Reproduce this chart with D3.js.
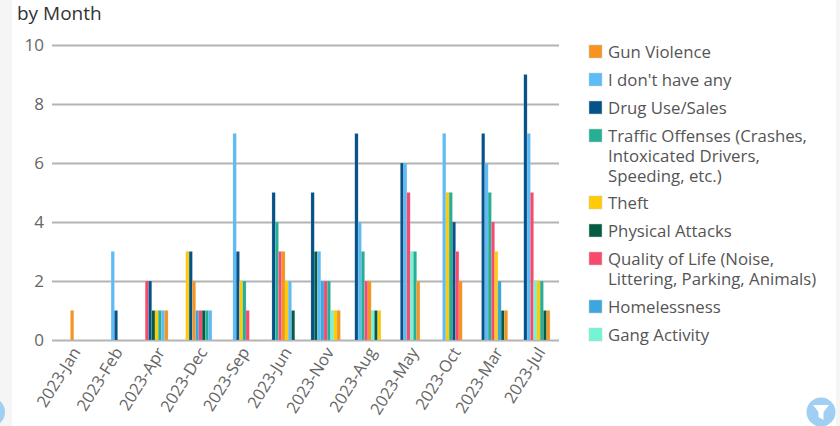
<!DOCTYPE html>
<html>
<head>
<meta charset="utf-8">
<script src="https://cdn.jsdelivr.net/npm/d3@7"></script>
<style>
  html, body { margin: 0; padding: 0; background: #fff; overflow: hidden; }
  text { font-family: "Open Sans", sans-serif; }
  .domain { display: none; }
</style>
</head>
<body>
<div id="chart"></div>
<script>
// months in the order the chart shows them
var months = ["2023-Jan", "2023-Feb", "2023-Apr", "2023-Dec", "2023-Sep", "2023-Jun",
              "2023-Nov", "2023-Aug", "2023-May", "2023-Oct", "2023-Mar", "2023-Jul"];

var legendLines = [["Gun Violence"], ["I don't have any"], ["Drug Use/Sales"],
                   ["Traffic Offenses (Crashes,", "Intoxicated Drivers,", "Speeding, etc.)"],
                   ["Theft"], ["Physical Attacks"],
                   ["Quality of Life (Noise,", "Littering, Parking, Animals)"],
                   ["Homelessness"], ["Gang Activity"]];

var seriesColors = ["#f7941d", "#5bbcf8", "#05518a", "#25b096", "#ffcb05",
                    "#045c45", "#f9496d", "#3ba6e0", "#72f5d5"];

// values per series, one per month (0 = no bar)
var gunViolence  = [1, 0, 1, 2, 0, 3, 1, 2, 2, 2, 1, 1];
var noneAtAll    = [0, 3, 1, 1, 7, 2, 3, 4, 6, 7, 6, 7];
var drugUse      = [0, 1, 2, 3, 3, 5, 5, 7, 6, 4, 7, 9];
var traffic      = [0, 0, 1, 1, 2, 4, 2, 3, 3, 5, 5, 2];
var theft        = [0, 0, 1, 3, 2, 2, 1, 1, 0, 5, 3, 2];
var physical     = [0, 0, 1, 1, 0, 1, 3, 1, 0, 0, 1, 1];
var qualityLife  = [0, 0, 2, 1, 1, 3, 2, 2, 5, 3, 4, 5];
var homeless     = [0, 0, 0, 1, 0, 0, 2, 0, 0, 0, 2, 0];
var gang         = [0, 0, 0, 0, 0, 0, 1, 1, 3, 0, 0, 2];
var seriesValues = [gunViolence, noneAtAll, drugUse, traffic, theft, physical, qualityLife, homeless, gang];

// order of the bars inside each month, as indexes into seriesValues
var barOrder = [
  [0],
  [1, 2],
  [6, 2, 5, 4, 3, 1, 0],
  [4, 2, 0, 7, 6, 5, 3, 1],
  [1, 2, 4, 3, 6],
  [2, 3, 6, 0, 4, 1, 5],
  [2, 5, 1, 7, 6, 3, 8, 4, 0],
  [2, 1, 3, 6, 0, 8, 5, 4],
  [2, 1, 6, 8, 3, 0],
  [1, 4, 3, 2, 6, 0],
  [2, 1, 3, 6, 4, 7, 5, 0],
  [2, 1, 6, 8, 4, 3, 5, 0]
];

var yTicks = [0, 2, 4, 6, 8, 10];

var width = 840, height = 426;
var margin = {top: 45, right: 281, bottom: 86, left: 52};
var barWidth = 3.26;

var svg = d3.select("#chart").append("svg")
    .attr("width", width)
    .attr("height", height)
    .style("display", "block");

// grey page strips either side of the card
svg.append("rect").attr("x", 0).attr("y", 0).attr("width", 12).attr("height", height).attr("fill", "#f5f5f5");
svg.append("rect").attr("x", 836).attr("y", 0).attr("width", 4).attr("height", height).attr("fill", "#f5f5f5");

svg.append("text")
    .attr("x", 17)
    .attr("y", 20)
    .attr("fill", "#333")
    .style("font-size", "19px")
    .text("by Month");

var x = d3.scaleBand().domain(months).range([margin.left - 1, width - margin.right - 1]);
var y = d3.scaleLinear().domain([0, 10]).range([height - margin.bottom, margin.top]);

// y axis, the ticks double as grid lines
var yAxis = svg.append("g")
    .attr("transform", "translate(" + margin.left + ",0)")
    .call(d3.axisLeft(y).tickValues(yTicks).tickSize(-(width - margin.left - margin.right)).tickPadding(8));
yAxis.selectAll("line").attr("stroke", "#b4b4b4").attr("stroke-width", 2);
yAxis.selectAll("text").attr("fill", "#666").style("font-size", "17px");

// bars, each month gets its own band scale so the group stays centred
months.forEach(function(month, m) {
  var order = barOrder[m];
  var center = x(month) + x.bandwidth() / 2;
  var inner = d3.scaleBand()
      .domain(order)
      .range([center - order.length * barWidth / 2, center + order.length * barWidth / 2]);

  svg.append("g").selectAll("rect")
      .data(order)
      .enter().append("rect")
      .attr("x", function(s) { return inner(s); })
      .attr("y", function(s) { return y(seriesValues[s][m]); })
      .attr("width", inner.bandwidth())
      .attr("height", function(s) { return y(0) - y(seriesValues[s][m]); })
      .attr("fill", function(s) { return seriesColors[s]; })
      .attr("stroke", "#ccc")
      .attr("stroke-opacity", 0.5)
      .attr("stroke-width", 0.4);
});

// x axis labels, rotated
var xAxis = svg.append("g")
    .attr("transform", "translate(0," + (height - margin.bottom) + ")")
    .call(d3.axisBottom(x).tickSize(0).tickPadding(0));
xAxis.selectAll("text")
    .attr("fill", "#666")
    .attr("text-anchor", "end")
    .attr("dx", 0)
    .attr("dy", 0)
    .attr("transform", "translate(9,12) rotate(-58)")
    .style("font-size", "16.5px");

// legend
var legendY = 52;
legendLines.forEach(function(lines, i) {
  var g = svg.append("g").attr("transform", "translate(589," + legendY + ")");
  g.append("rect")
      .attr("x", 0)
      .attr("y", -7)
      .attr("width", 13)
      .attr("height", 13)
      .attr("fill", seriesColors[i])
      .attr("stroke", "#ccc")
      .attr("stroke-width", 0.5);
  g.selectAll("text")
      .data(lines)
      .enter().append("text")
      .attr("x", 19)
      .attr("y", function(d, j) { return j * 20; })
      .attr("dy", "0.35em")
      .attr("fill", "#555")
      .style("font-size", "16.8px")
      .text(function(d) { return d; });
  legendY += 28 + (lines.length - 1) * 20 - (i == 3 ? 1 : 0);
});

// filter buttons
svg.append("circle").attr("cx", -10).attr("cy", 412).attr("r", 15).attr("fill", "#9fd0f3");
svg.append("circle").attr("cx", 821).attr("cy", 412).attr("r", 14.5).attr("fill", "#9fd0f3");
var funnel = d3.path();
funnel.moveTo(813, 405);
funnel.lineTo(829, 405);
funnel.lineTo(823.5, 412);
funnel.lineTo(823.5, 420);
funnel.lineTo(818.5, 417);
funnel.lineTo(818.5, 412);
funnel.closePath();
svg.append("path").attr("d", funnel.toString()).attr("fill", "#fff");
</script>
</body>
</html>
